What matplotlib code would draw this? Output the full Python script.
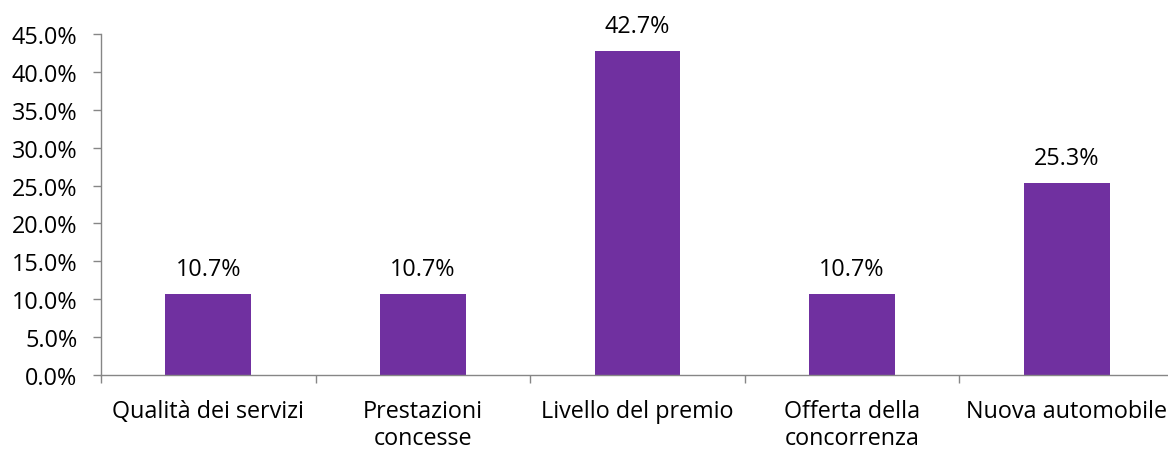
import matplotlib
matplotlib.use("Agg")
import matplotlib.pyplot as plt
from matplotlib.ticker import FixedLocator, PercentFormatter

categories = ["Qualità dei servizi", "Prestazioni\nconcesse", "Livello del premio",
              "Offerta della\nconcorrenza", "Nuova automobile"]
values = [10.7, 10.7, 42.7, 10.7, 25.3]
yticks = [0, 5, 10, 15, 20, 25, 30, 35, 40, 45]

FS = 16.8
plt.rcParams['font.family'] = ['Open Sans', 'DejaVu Sans']
fig = plt.figure(figsize=(11.68, 4.52), dpi=100)
ax = fig.add_axes([101/1168, 76/452, 5*214.6/1168, 341/452])

x = list(range(len(categories)))
bars = ax.bar(x, values, width=0.4, color="#7030A0")
for xi, v in zip(x, values):
    ax.annotate(f"{v:.1f}%", xy=(xi, v), xytext=(0, 13.7), textcoords="offset points",
                ha="center", va="baseline", fontsize=FS, color="#000000")

ax.set_xlim(-0.5, len(categories) - 0.5)
ax.set_ylim(0, 45)
ax.set_yticks(yticks)
ax.yaxis.set_major_formatter(PercentFormatter(decimals=1))
ax.set_xticks(x)
ax.set_xticklabels(categories, fontsize=FS, linespacing=1.2)
ax.xaxis.set_minor_locator(FixedLocator([i - 0.5 for i in range(len(categories) + 1)]))
ax.tick_params(axis='x', which='major', length=0, pad=17)
ax.tick_params(axis='x', which='minor', length=6, color="#868686", width=1)
ax.tick_params(axis='y', length=6, color="#868686", width=1, labelsize=FS, pad=11)
for s in ['top', 'right']:
    ax.spines[s].set_visible(False)
for s in ['left', 'bottom']:
    ax.spines[s].set_color("#868686")
    ax.spines[s].set_linewidth(1)

fig.savefig("out.png", dpi=100)
